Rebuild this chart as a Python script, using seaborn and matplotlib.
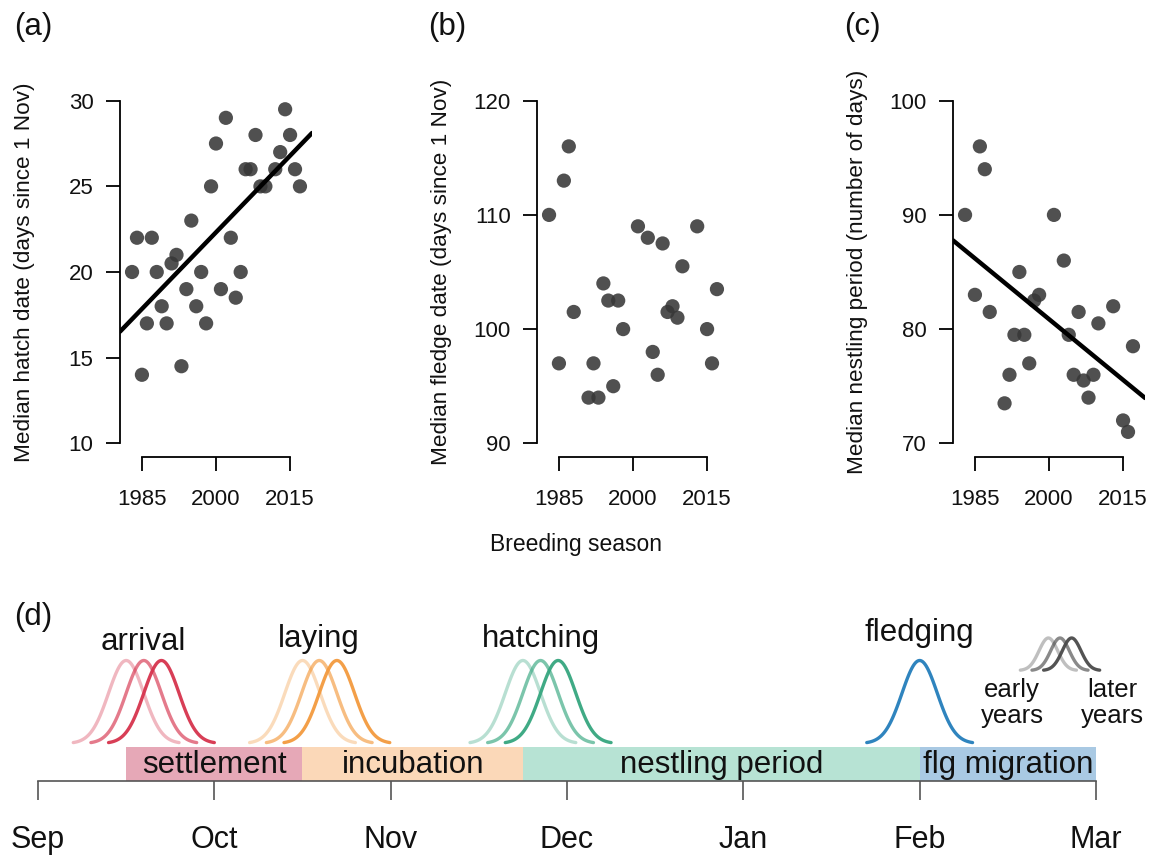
import numpy as np
import pandas as pd
import matplotlib
matplotlib.use("Agg")
import matplotlib.pyplot as plt
import seaborn as sns

# ---------------------------------------------------------------- data
hatch_years = [1983, 1984, 1985, 1986, 1987, 1988, 1989, 1990, 1991, 1992,
               1993, 1994, 1995, 1996, 1997, 1998, 1999, 2000, 2001, 2002,
               2003, 2004, 2005, 2006, 2007, 2008, 2009, 2010, 2012, 2013,
               2014, 2015, 2016, 2017]
hatch_dates = [20, 22, 14, 17, 22, 20, 18, 17, 20.5, 21,
               14.5, 19, 23, 18, 20, 17, 25, 27.5, 19, 29,
               22, 18.5, 20, 26, 26, 28, 25, 25, 26, 27,
               29.5, 28, 26, 25]

fledge_years = [1983, 1985, 1986, 1987, 1988, 1991, 1992, 1993, 1994, 1995,
                1996, 1997, 1998, 2001, 2003, 2004, 2005, 2006, 2007, 2008,
                2009, 2010, 2013, 2015, 2016, 2017]
fledge_dates = [110, 97, 113, 116, 101.5, 94, 97, 94, 104, 102.5,
                95, 102.5, 100, 109, 108, 98, 96, 107.5, 101.5, 102,
                101, 105.5, 109, 100, 97, 103.5]
nestling_days = [90, 83, 96, 94, 81.5, 73.5, 76, 79.5, 85, 79.5,
                 77, 82.5, 83, 90, 86, 79.5, 76, 81.5, 75.5, 74,
                 76, 80.5, 82, 72, 71, 78.5]

year_ticks = [1985, 2000, 2015]

# annual cycle (months counted from 1 Sep)
months = ["Sep", "Oct", "Nov", "Dec", "Jan", "Feb", "Mar"]
phase_names = ["settlement", "incubation", "nestling period", "flg migration"]
phase_start = [0.5, 1.5, 2.75, 5.0]
phase_end = [1.5, 2.75, 5.0, 6.0]
phase_colors = ["#E6A8B7", "#FBD8B8", "#B7E3D4", "#A9C9E3"]

event_names = ["arrival", "laying", "hatching", "fledging"]
event_centers = [[0.50, 0.60, 0.70],
                 [1.50, 1.595, 1.695],
                 [2.75, 2.85, 2.95],
                 [5.0]]
event_colors = ["#D6334D", "#F39A3E", "#35A67F", "#2F84BE"]
shift_alpha = [0.35, 0.65, 0.95]
legend_centers = [5.73, 5.796, 5.862]

# ---------------------------------------------------------------- style
sns.set_theme(style="white")
plt.rcParams["font.family"] = ["Liberation Sans", "DejaVu Sans"]
plt.rcParams["axes.linewidth"] = 1.3

W, H = 1151, 859
fig = plt.figure(figsize=(W / 100, H / 100), dpi=100)

point_color = (0.22, 0.22, 0.22)


def scatter_panel(left_px, years, values, ylim, yticks, ylabel, fit):
    ax = fig.add_axes([left_px / W, 1 - 457 / H, 192 / W, 370 / H])
    lo, hi = ylim
    pad = 0.04 * (hi - lo)
    ax.set_xlim(1980.56, 2019.44)
    ax.set_ylim(lo - pad, hi + pad)
    df = pd.DataFrame({"year": years, "value": values})
    sns.scatterplot(data=df, x="year", y="value", ax=ax, s=105,
                    color=point_color, alpha=0.88, edgecolor="none",
                    zorder=2)
    if fit:
        sns.regplot(data=df, x="year", y="value", ax=ax, scatter=False,
                    ci=None, truncate=False,
                    line_kws={"color": "black", "lw": 3.2, "zorder": 3})
    ax.set_xlim(1980.56, 2019.44)
    ax.set_xticks(year_ticks)
    ax.set_yticks(yticks)
    ax.set_yticklabels([str(t) for t in yticks])
    for side in ("top", "right"):
        ax.spines[side].set_visible(False)
    ax.spines["left"].set_bounds(yticks[0], yticks[-1])
    ax.spines["bottom"].set_bounds(year_ticks[0], year_ticks[-1])
    for side in ("left", "bottom"):
        ax.spines[side].set_color("black")
    ax.tick_params(axis="both", which="major", length=10, width=1.3,
                   color="black", labelsize=16, labelcolor="#111111",
                   left=True, bottom=True)
    ax.tick_params(axis="y", pad=9)
    ax.tick_params(axis="x", pad=13)
    ax.set_xlabel("")
    ax.set_ylabel(ylabel, fontsize=16.2, color="#111111")
    ax.yaxis.set_label_coords(-0.495, 0.5)
    ax.yaxis.label.set_verticalalignment("center")
    ax.set_facecolor("none")
    return ax


scatter_panel(120, hatch_years, hatch_dates, (10, 30), [10, 15, 20, 25, 30],
              "Median hatch date (days since 1 Nov)", True)
scatter_panel(537, fledge_years, fledge_dates, (90, 120), [90, 100, 110, 120],
              "Median fledge date (days since 1 Nov)", False)
scatter_panel(953, fledge_years, nestling_days, (70, 100), [70, 80, 90, 100],
              "Median nestling period (number of days)", True)

fig.text(0.5, 1 - 545 / H, "Breeding season", ha="center", va="center",
         fontsize=16.5, color="#111111")

for lab, px, py in [("(a)", 33, 27), ("(b)", 447, 27), ("(c)", 862, 27),
                    ("(d)", 33, 617)]:
    fig.text(px / W, 1 - py / H, lab, ha="center", va="center",
             fontsize=22.5, color="#111111")

# ---------------------------------------------------------------- panel d
px_per_month = 176.33
x0 = 38
axd = fig.add_axes([0, 0, 1, 259 / H])
axd.set_xlim(-x0 / px_per_month, (W - x0) / px_per_month)
axd.set_ylim(0, 259)
axd.set_facecolor("none")

base_y = 78          # timeline level
bar_h = 34
curve_base = 115.5
curve_h = 83

for name, s, e, c in zip(phase_names, phase_start, phase_end, phase_colors):
    axd.barh(base_y + bar_h / 2, e - s, left=s, height=bar_h, color=c,
             edgecolor="none", zorder=1)
    axd.text((s + e) / 2, base_y + bar_h / 2 - 1, name, ha="center",
             va="center", fontsize=22.5, color="#111111", zorder=3)


def bell(center, sd, base, height):
    x = np.linspace(center - 3 * sd, center + 3 * sd, 120)
    return x, base + height * np.exp(-0.5 * ((x - center) / sd) ** 2)


label_baselines = [209, 212, 212, 218]
for name, centers, col, yb in zip(event_names, event_centers, event_colors,
                                  label_baselines):
    alphas = shift_alpha if len(centers) > 1 else [1.0]
    for c, a in zip(centers, alphas):
        x, y = bell(c, 0.1, curve_base, curve_h)
        axd.plot(x, y, color=col, alpha=a, lw=2.4, solid_capstyle="round",
                 zorder=2)
    axd.text(centers[len(centers) // 2], yb, name, ha="center",
             va="baseline", fontsize=22.5, color="#111111")

for c, a in zip(legend_centers, shift_alpha):
    x, y = bell(c, 0.053, 188.5, 32.5)
    axd.plot(x, y, color="#4a4a4a", alpha=a, lw=2.4, solid_capstyle="round")

axd.text((1012 - x0) / px_per_month, 859 - 703, "early\nyears", ha="center",
         va="center", fontsize=18.5, color="#111111", linespacing=1.15)
axd.text((1112 - x0) / px_per_month, 859 - 703, "later\nyears", ha="center",
         va="center", fontsize=18.5, color="#111111", linespacing=1.15)

# month axis
for side in ("top", "right", "left"):
    axd.spines[side].set_visible(False)
axd.spines["bottom"].set_position(("data", base_y))
axd.spines["bottom"].set_bounds(0, 6)
axd.spines["bottom"].set_color("#555555")
axd.spines["bottom"].set_linewidth(1.2)
axd.set_yticks([])
axd.set_xticks(range(len(months)))
axd.set_xticklabels(months)
axd.tick_params(axis="x", length=14, width=1.2, color="#555555",
                labelsize=22, labelcolor="#111111", pad=18, bottom=True)

fig.savefig("out.png", dpi=100)
